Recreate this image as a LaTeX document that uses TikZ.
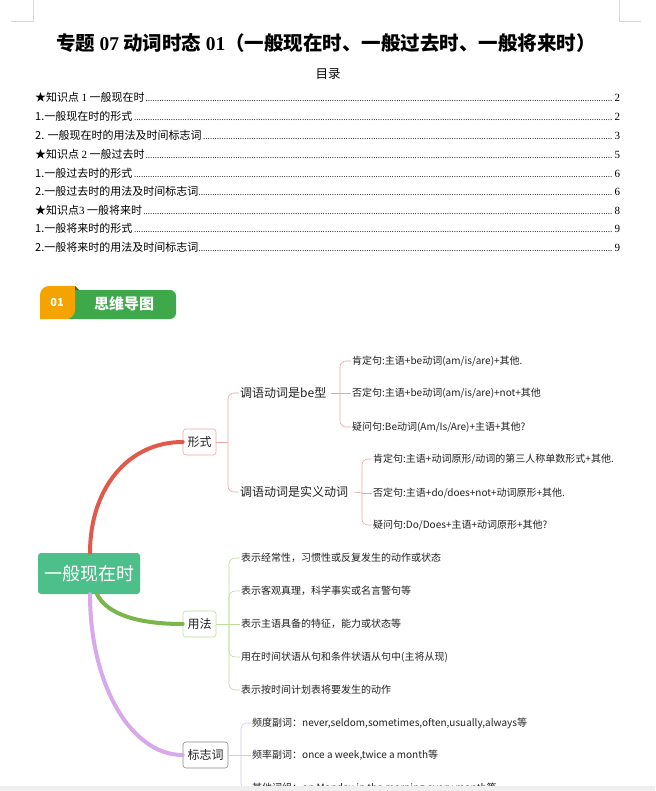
\documentclass[tikz,border=0pt]{standalone}
\usepackage{fontspec}
\setmainfont{Noto Sans CJK SC}
\newfontfamily\tm{Liberation Serif}
\newcommand\fsz[1]{\fontsize{#1}{#1}\selectfont}
\newcommand\dfill{{\tm\fsz{9}\leaders\hbox to 2.3pt{\hss.\hss}\hfill}}
\definecolor{cornerc}{HTML}{D9D9D9}
\definecolor{txt}{HTML}{222222}
\definecolor{mred}{HTML}{E05A4B}
\definecolor{lred}{HTML}{EBA8A0}
\definecolor{mgreen}{HTML}{7BB64A}
\definecolor{lgreen}{HTML}{BFDB9E}
\definecolor{mpurple}{HTML}{D7A9EA}
\definecolor{lpurple}{HTML}{D9C9EE}
\definecolor{central}{HTML}{4DBF8B}
\definecolor{badgeg}{HTML}{3FA84B}
\definecolor{badgeo}{HTML}{F5A300}
\definecolor{fold}{HTML}{2F6E33}
\definecolor{grayb}{HTML}{8A8A8A}
\definecolor{barc}{HTML}{EFEFEF}
\begin{document}
\begin{tikzpicture}[x=1pt,y=-1pt,
  toc/.style={anchor=west,inner sep=0pt,font=\fsz{11},text=black},
  boxn/.style={draw,rounded corners=3pt,fill=white,minimum height=26pt,inner xsep=4.5pt,inner ysep=0pt,font=\fsz{12},text=txt,line width=0.6pt},
  subn/.style={anchor=west,inner sep=0pt,font=\fsz{12},text=txt},
  leaf/.style={anchor=west,inner sep=0pt,font=\fsz{10},text=txt},
  mainline/.style={line width=4pt,line cap=round},
  brk/.style={line width=0.6pt,rounded corners=6pt}]
\useasboundingbox (0,0) rectangle (655,791);
\fill[white] (0,0) rectangle (655,791);
% page corner marks
\draw[cornerc,line width=0.7pt] (33,0) -- (33,21) -- (11,21);
\draw[cornerc,line width=0.7pt] (619,0) -- (619,21) -- (641,21);
% title
\node[inner sep=0pt,font=\fsz{19.5}\bfseries] (title) at (326,43) {专题 {\tm\bfseries 07} 动词时态 {\tm\bfseries 01}（一般现在时、一般过去时、一般将来时）};
\node[inner sep=0pt,font=\fsz{12.5}] (ml) at (328,74) {目录};
% table of contents
\node[toc] (t1) at (35,97)  {\makebox[585pt]{★知识点 {\tm 1} 一般现在时\dfill{\tm 2}}};
\node[toc] (t2) at (35,116) {\makebox[585pt]{1.一般现在时的形式\dfill{\tm 2}}};
\node[toc] (t3) at (35,135) {\makebox[585pt]{2. 一般现在时的用法及时间标志词\dfill{\tm 3}}};
\node[toc] (t4) at (35,154) {\makebox[585pt]{★知识点 {\tm 2} 一般过去时\dfill{\tm 5}}};
\node[toc] (t5) at (35,173) {\makebox[585pt]{1.一般过去时的形式\dfill{\tm 6}}};
\node[toc] (t6) at (35,191) {\makebox[585pt]{2.一般过去时的用法及时间标志词\dfill{\tm 6}}};
\node[toc] (t7) at (35,210) {\makebox[585pt]{★知识点{\tm 3} 一般将来时\dfill{\tm 8}}};
\node[toc] (t8) at (35,228) {\makebox[585pt]{1.一般将来时的形式\dfill{\tm 9}}};
\node[toc] (t9) at (35,247) {\makebox[585pt]{2.一般将来时的用法及时间标志词\dfill{\tm 9}}};
% badge
\fill[badgeg] (68,290) [rounded corners=6pt] -- (176,290) -- (176,319) [sharp corners] -- (68,319) -- cycle;
\fill[badgeo] (40,319) -- (40,295) .. controls (40,290) and (44,286) .. (49,286) -- (75,286) -- (75,310) .. controls (75,315) and (71,319) .. (66,319) -- cycle;
\fill[fold] (75,286) -- (79,290) -- (75,290) -- cycle;
\node[inner sep=0pt,text=white,font=\fsz{11}\bfseries] (b01) at (57,303) {01};
\node[inner sep=0pt,text=white,font=\fsz{15}\bfseries] (bt) at (124,304) {思维导图};
% mind map main nodes
\node[fill=central,rounded corners=3pt,minimum width=102pt,minimum height=41pt,inner sep=0pt,text=white,font=\fsz{18}] (c) at (89,573.5) {一般现在时};
\node[boxn,draw=lred] (xs) at (199.5,442) {形式};
\node[boxn,draw=lgreen] (yf) at (199.5,624) {用法};
\node[boxn,draw=grayb] (bz) at (205.5,755) {标志词};
% main curves
\draw[mainline,mred] ([xshift=1pt]c.north) .. controls +(0,-64) and +(-55,0) .. (xs.west);
\draw[mainline,mgreen] ([xshift=8pt]c.south) .. controls +(10,20) and +(-45,0) .. (yf.west);
\draw[mainline,mpurple] ([xshift=1pt]c.south) .. controls +(0,90) and +(-52,0) .. (bz.west);
% form branch
\node[subn] (be) at (240,393) {调语动词是be型};
\node[subn] (sy) at (240,492) {调语动词是实义动词};
\coordinate (jxs) at (228,442);
\draw[brk,lred] (xs.east) -- (jxs);
\draw[brk,lred] (jxs) |- ([xshift=-1pt]be.west);
\draw[brk,lred] (jxs) |- ([xshift=-1pt]sy.west);
\node[leaf] (b1) at (352,361) {肯定句:主语+be动词(am/is/are)+其他.};
\node[leaf] (b2) at (352,393) {否定句:主语+be动词(am/is/are)+not+其他};
\node[leaf] (b3) at (352,427) {疑问句:Be动词(Am/Is/Are)+主语+其他?};
\coordinate (jbe) at (340,393);
\draw[brk,lred] ([xshift=5pt]be.east) -- (jbe);
\draw[brk,lred] (jbe) |- ([xshift=-1pt]b1.west);
\draw[brk,lred] (jbe) -- ([xshift=-1pt]b2.west);
\draw[brk,lred] (jbe) |- ([xshift=-1pt]b3.west);
\node[leaf] (s1) at (373,459) {肯定句:主语+动词原形/动词的第三人称单数形式+其他.};
\node[leaf] (s2) at (373,493) {否定句:主语+do/does+not+动词原形+其他.};
\node[leaf] (s3) at (373,525) {疑问句:Do/Does+主语+动词原形+其他?};
\coordinate (jsy) at (362,493);
\draw[brk,lred] ([xshift=5pt]sy.east) -- (jsy);
\draw[brk,lred] (jsy) |- ([xshift=-1pt]s1.west);
\draw[brk,lred] (jsy) -- ([xshift=-1pt]s2.west);
\draw[brk,lred] (jsy) |- ([xshift=-1pt]s3.west);
% usage branch
\node[leaf] (u1) at (241,558) {表示经常性，习惯性或反复发生的动作或状态};
\node[leaf] (u2) at (241,591) {表示客观真理，科学事实或名言警句等};
\node[leaf] (u3) at (241,624) {表示主语具备的特征，能力或状态等};
\node[leaf] (u4) at (241,657) {用在时间状语从句和条件状语从句中(主将从现)};
\node[leaf] (u5) at (241,690) {表示按时间计划表将要发生的动作};
\coordinate (jyf) at (229,624);
\draw[brk,lgreen] (yf.east) -- (jyf);
\draw[brk,lgreen] (jyf) |- ([xshift=-1pt]u1.west);
\draw[brk,lgreen] (jyf) |- ([xshift=-1pt]u2.west);
\draw[brk,lgreen] (jyf) -- ([xshift=-1pt]u3.west);
\draw[brk,lgreen] (jyf) |- ([xshift=-1pt]u4.west);
\draw[brk,lgreen] (jyf) |- ([xshift=-1pt]u5.west);
% marker words branch
\node[leaf] (m1) at (252,723) {频度副词：never,seldom,sometimes,often,usually,always等};
\node[leaf] (m2) at (252,755) {频率副词：once a week,twice a month等};
\node[leaf] (m3) at (252,789) {其他词组：on Monday,in the morning,every month等};
\coordinate (jbz) at (241,755);
\draw[brk,lpurple] (bz.east) -- (jbz);
\draw[brk,lpurple] (jbz) |- ([xshift=-1pt]m1.west);
\draw[brk,lpurple] (jbz) -- ([xshift=-1pt]m2.west);
\draw[brk,lpurple] (jbz) |- ([xshift=-1pt]m3.west);
% bottom bar
\fill[barc] (0,786) rectangle (655,791);
\end{tikzpicture}
\end{document}
